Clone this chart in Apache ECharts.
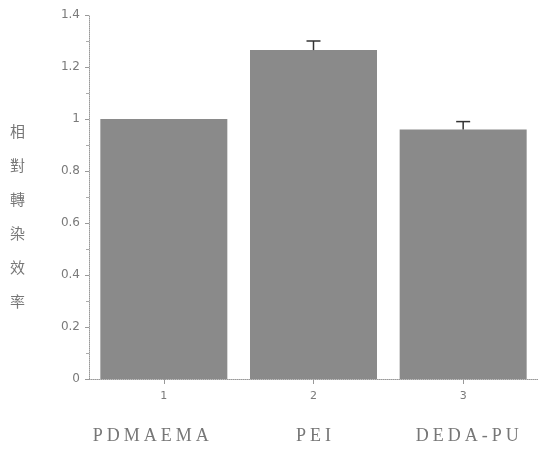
<!DOCTYPE html>
<html><head><meta charset="utf-8">
<script src="https://cdn.jsdelivr.net/npm/echarts@6/dist/echarts.min.js"></script>
<style>html,body{margin:0;padding:0;background:#fff}#c{width:538px;height:471px}</style>
</head><body><div id="c"></div>
<script>
const categories = ['1', '2', '3'];
const materials = ['PDMAEMA', 'PEI', 'DEDA-PU'];
const values = [1.0, 1.265, 0.96];
const errors = [0.0, 0.035, 0.03];
const yTitle = '相對轉染效率';

const chart = echarts.init(document.getElementById('c'));
const gray = '#7a7a7a';
chart.setOption({
  animation: false,
  backgroundColor: '#fff',
  grid: { left: 89, right: 0, top: 15, bottom: 92 },
  xAxis: [{
    type: 'category', data: categories,
    axisLine: { lineStyle: { color: '#999', type: 'dotted' } },
    axisTick: { show: true, alignWithLabel: true, lineStyle: { color: '#999' } },
    axisLabel: { color: gray, fontSize: 11, margin: 12, fontFamily: 'DejaVu Sans' }
  }, {
    type: 'category', data: materials, position: 'bottom', offset: 40,
    axisLine: { show: false }, axisTick: { show: false },
    axisLabel: {
      interval: 0, hideOverlap: false,
      formatter: (s, i) => {
        const body = s.split('').map(ch => '{s|' + ch + '}').join('');
        if (i === 0) return body + '{p0|}';
        if (i === 2) return '{p2|}' + body;
        return body;
      },
      rich: {
        s: { color: '#777', fontSize: 18, fontFamily: 'Liberation Serif', padding: [0, 2, 0, 2] },
        p0: { width: 26 },
        p2: { width: 8 }
      }
    }
  }],
  yAxis: {
    type: 'value', min: 0, max: 1.4, interval: 0.2,
    axisLine: { show: true, lineStyle: { color: '#999', type: 'dotted' } },
    axisTick: { show: true, length: 4, lineStyle: { color: '#999' } },
    minorTick: { show: true, splitNumber: 2, length: 3, lineStyle: { color: '#aaa' } },
    splitLine: { show: false },
    axisLabel: { color: gray, fontSize: 12, margin: 9, fontFamily: 'DejaVu Sans',
      formatter: v => String(Math.round(v * 10) / 10) }
  },
  graphic: [{
    type: 'text', left: 10, top: 114,
    style: { text: yTitle.split('').join('\n'), fill: '#777', fontSize: 15, lineHeight: 34,
      fontFamily: 'Noto Sans CJK TC' }
  }],
  series: [{
    type: 'bar', data: values, barWidth: 127, xAxisIndex: 0,
    itemStyle: { color: '#8a8a8a' }
  }, {
    type: 'custom', xAxisIndex: 0, z: 5,
    data: values.map((v, i) => [i, v, v + errors[i]]),
    renderItem: function (params, api) {
      const top = api.coord([api.value(0), api.value(2)]);
      const base = api.coord([api.value(0), api.value(1)]);
      const w = 7;
      if (api.value(2) - api.value(1) < 0.001) return null;
      return { type: 'group', children: [
        { type: 'line', shape: { x1: top[0], y1: top[1], x2: base[0], y2: base[1] }, style: { stroke: '#333', lineWidth: 1.5 } },
        { type: 'line', shape: { x1: top[0] - w, y1: top[1], x2: top[0] + w, y2: top[1] }, style: { stroke: '#333', lineWidth: 1.5 } }
      ] };
    }
  }]
});
</script></body></html>
